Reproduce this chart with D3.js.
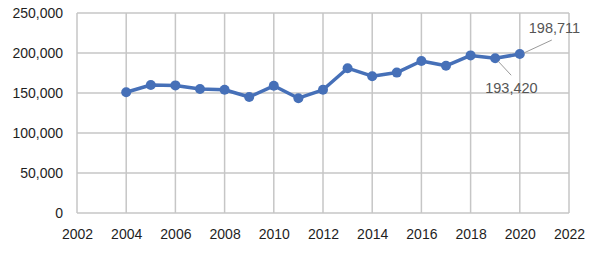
<!DOCTYPE html>
<html><head><meta charset="utf-8">
<script src="https://cdn.jsdelivr.net/npm/d3@7"></script>
<style>body{margin:0;background:#fff}svg{display:block}</style>
</head><body>
<svg id="c" width="594" height="253"></svg>
<script>
const years = [2004,2005,2006,2007,2008,2009,2010,2011,2012,2013,2014,2015,2016,2017,2018,2019,2020];
const values = [151000,160000,159500,155000,154000,145000,159000,143500,154000,181000,171000,175500,190000,184000,197000,193420,198711];
const xTicks = [2002,2004,2006,2008,2010,2012,2014,2016,2018,2020,2022];
const yTicks = [0,50000,100000,150000,200000,250000];
const labels = [{year:2020,value:198711,text:"198,711",sx:4,sy:-1,dx:32,dy:-14,tx:9,ty:-21},
                {year:2019,value:193420,text:"193,420",sx:3,sy:3,dx:16,dy:17,tx:-10,ty:35}];

const svg = d3.select("#c");
const x = d3.scaleLinear().domain([2002,2022]).range([77,569]);
const y = d3.scaleLinear().domain([0,250000]).range([213,13]);
const fmt = d3.format(",");

const g = svg.append("g");
g.selectAll(".hg").data(yTicks).join("line")
  .attr("x1",x(2002)).attr("x2",x(2022)).attr("y1",d=>y(d)).attr("y2",d=>y(d))
  .attr("stroke","#c6c6c6").attr("stroke-width",1.5);
g.selectAll(".vg").data(xTicks).join("line")
  .attr("y1",y(0)).attr("y2",y(250000)).attr("x1",d=>x(d)).attr("x2",d=>x(d))
  .attr("stroke","#c6c6c6").attr("stroke-width",1.5);

const yAxis = svg.append("g").attr("transform",`translate(${x(2002)},0)`)
  .call(d3.axisLeft(y).tickValues(yTicks).tickFormat(fmt).tickSize(0).tickPadding(14));
const xAxis = svg.append("g").attr("transform",`translate(0,${y(0)})`)
  .call(d3.axisBottom(x).tickValues(xTicks).tickFormat(d3.format("d")).tickSize(0).tickPadding(16));
[yAxis,xAxis].forEach(a=>{
  a.select(".domain").remove();
  a.selectAll("text").attr("font-family","'Liberation Sans',Arial,sans-serif").attr("font-size",14).attr("fill","#1e1e1e");
});

const line = d3.line().x((d,i)=>x(years[i])).y(d=>y(d));
svg.append("path").datum(values).attr("d",line).attr("fill","none")
  .attr("stroke","#4670b8").attr("stroke-width",3.5).attr("stroke-linejoin","round");
svg.selectAll(".pt").data(values).join("circle")
  .attr("cx",(d,i)=>x(years[i])).attr("cy",d=>y(d)).attr("r",5).attr("fill","#4670b8");

labels.forEach(l=>{
  const px = x(l.year), py = y(l.value);
  svg.append("line").attr("x1",px+l.sx).attr("y1",py+l.sy).attr("x2",px+l.dx).attr("y2",py+l.dy)
    .attr("stroke","#9a9a9a").attr("stroke-width",1);
  svg.append("text").attr("x",px+l.tx).attr("y",py+l.ty).text(l.text)
    .attr("font-family","'Liberation Sans',Arial,sans-serif").attr("font-size",14.5).attr("fill","#555");
});
</script>
</body></html>
